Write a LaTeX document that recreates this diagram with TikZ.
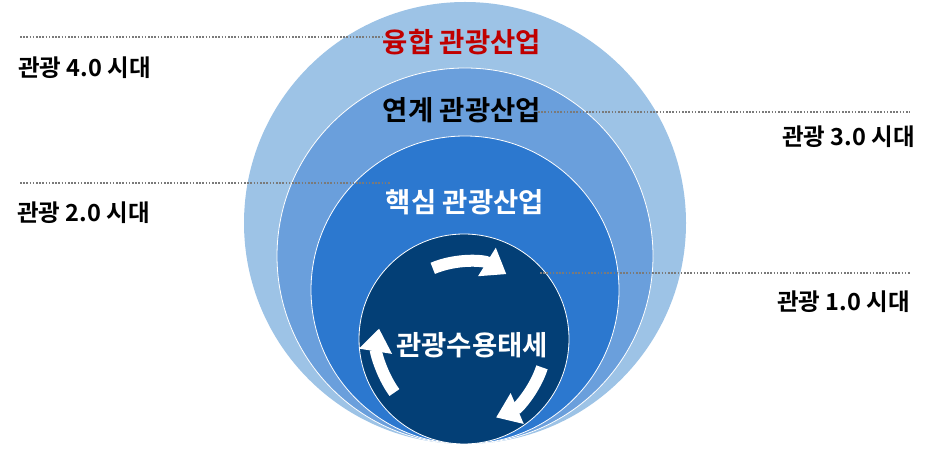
\documentclass[tikz,border=0pt]{standalone}
\usepackage{fontspec}
\setmainfont{Noto Sans CJK KR}[BoldFont={* Bold}]
\usetikzlibrary{arrows.meta}
\definecolor{cA}{HTML}{9DC3E6}
\definecolor{cB}{HTML}{6A9FDC}
\definecolor{cC}{HTML}{2C78CF}
\definecolor{cD}{HTML}{033F76}
\definecolor{redt}{HTML}{C00000}
\definecolor{dotc}{HTML}{7A7A7A}
\tikzset{
  ring/.style={draw=white, line width=0.8pt},
  era/.style={font=\fontsize{23.5}{26}\selectfont\bfseries, inner sep=0pt, text=black},
  layer/.style={font=\fontsize{27.5}{30}\selectfont\bfseries, inner sep=0pt},
  guide/.style={draw=dotc, line width=1.6pt, dash pattern=on 1.6pt off 1.6pt},
  cyc/.style={draw=white, line width=12pt, -{Triangle[width=32pt,length=23pt]}}
}
\begin{document}
\begin{tikzpicture}[x=1pt,y=1pt]
\useasboundingbox (0,0) rectangle (933,449);
\fill[cA] (465,226) circle[radius=221pt];
\draw[ring,fill=cB] (465,193) circle[radius=188pt];
\draw[ring,fill=cC] (465,159) circle[radius=154pt];
\draw[ring,fill=cD] (464,110) circle[radius=105pt];

\node[layer,text=redt] (t4) at (462,407) {융합 관광산업};
\node[layer,text=black] (t3) at (462,339) {연계 관광산업};
\node[layer,text=white] (t2) at (465,247) {핵심 관광산업};
\node[layer,text=white] (t1) at (472,104) {관광수용태세};

\node[era,anchor=west] (e4) at (18,381) {관광 4.0 시대};
\node[era,anchor=west] (e2) at (17,236) {관광 2.0 시대};
\node[era,anchor=east] (e3) at (915,312) {관광 3.0 시대};
\node[era,anchor=east] (e1) at (910,147) {관광 1.0 시대};

\coordinate (l4a) at (20,412);
\coordinate (l4b) at (383,412);
\coordinate (l2a) at (20,266);
\coordinate (l2b) at (390,266);
\coordinate (l3a) at (538,337);
\coordinate (l3b) at (910,337);
\coordinate (l1a) at (540,176);
\coordinate (l1b) at (910,176);
\draw[guide] (l4a) -- (l4b);
\draw[guide] (l2a) -- (l2b);
\draw[guide] (l3a) -- (l3b);
\draw[guide] (l1a) -- (l1b);

\coordinate (cc) at (464,107);
\draw[cyc] ([shift={(113:80pt)}]cc) arc[start angle=113, end angle=58, radius=80pt];
\draw[cyc] ([shift={(-18:82pt)}]cc) arc[start angle=-18, end angle=-67, radius=82pt];
\draw[cyc] ([shift={(216:86pt)}]cc) arc[start angle=216, end angle=171, radius=86pt];
\end{tikzpicture}
\end{document}
